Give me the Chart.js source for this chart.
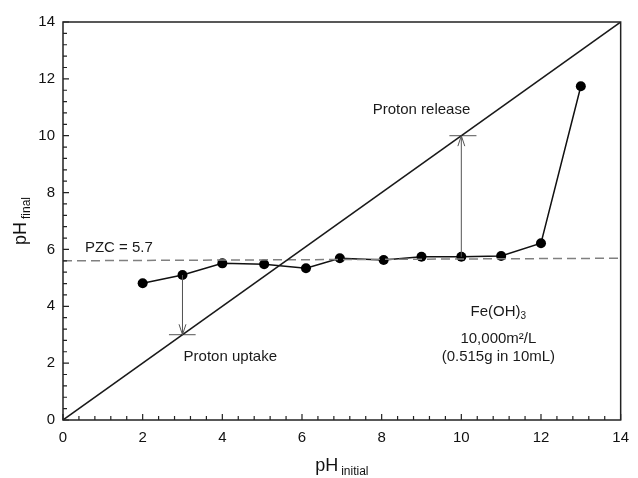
<!DOCTYPE html>
<html>
<head>
<meta charset="utf-8">
<script src="https://cdn.jsdelivr.net/npm/chart.js@4.4.1/dist/chart.umd.min.js"></script>
<style>
  html, body { margin: 0; padding: 0; background: #fff; }
  #wrap { width: 638px; height: 478px; }
</style>
</head>
<body>
<div id="wrap"><canvas id="c" width="638" height="478"></canvas></div>
<script>
// ---- data ----
const phInitial = [2.0, 3.0, 4.0, 5.05, 6.1, 6.95, 8.05, 9.0, 10.0, 11.0, 12.0, 13.0];
const phFinal   = [4.81, 5.10, 5.51, 5.48, 5.34, 5.69, 5.63, 5.74, 5.74, 5.77, 6.22, 11.74];
const axisTicks = [0, 2, 4, 6, 8, 10, 12, 14];
const diagonalX = [0, 14];
const diagonalY = [0, 14];
const pzcX = [0, 14];
const pzcY = [5.6, 5.69];
const uptakeArrowX = [3, 3];
const uptakeArrowY = [5.10, 3.0];
const uptakeBarX = [2.66, 3.33];
const uptakeBarY = [3.0, 3.0];
const releaseArrowX = [10, 10];
const releaseArrowY = [5.74, 10.0];
const releaseBarX = [9.7, 10.38];
const releaseBarY = [10.0, 10.0];
const labelTexts = ["Proton release", "Proton uptake", "PZC = 5.7"];
const labelX = [9.0, 4.2, 0.55];
const labelY = [10.9, 2.23, 6.07];
const noteTexts = ["10,000m\u00b2/L", "(0.515g in 10mL)"];
const noteX = [10.93, 10.93];
const noteY = [2.87, 2.23];
const formulaParts = ["Fe(OH)", "3"];
const formulaX = 10.93;
const formulaY = 3.81;
const xTitle = ["pH", "initial"];
const yTitle = ["pH", "final"];

const pts = (xs, ys) => xs.map((x, i) => ({ x: x, y: ys[i] }));
const FONT = '"Liberation Sans", Arial, sans-serif';

const decor = {
  id: 'decor',
  afterDraw(chart) {
    const ctx = chart.ctx;
    const xs = chart.scales.x, ys = chart.scales.y;
    const a = chart.chartArea;
    ctx.save();
    // frame
    ctx.strokeStyle = '#222';
    ctx.lineWidth = 1.5;
    ctx.strokeRect(a.left, a.top, a.right - a.left, a.bottom - a.top);
    // inward ticks (major every 2, minor every 0.4)
    ctx.lineWidth = 1.2;
    ctx.beginPath();
    for (let i = 0; i <= 35; i++) {
      const v = i * 0.4;
      const major = i % 5 === 0;
      const len = major ? 6 : 4;
      const px = xs.getPixelForValue(v);
      ctx.moveTo(px, a.bottom);
      ctx.lineTo(px, a.bottom - len);
      const py = ys.getPixelForValue(v);
      ctx.moveTo(a.left, py);
      ctx.lineTo(a.left + len, py);
    }
    ctx.stroke();

    // arrowheads (open V)
    const head = (xArr, yArr) => {
      const x0 = xs.getPixelForValue(xArr[0]), y0 = ys.getPixelForValue(yArr[0]);
      const x1 = xs.getPixelForValue(xArr[1]), y1 = ys.getPixelForValue(yArr[1]);
      const ang = Math.atan2(y1 - y0, x1 - x0);
      const L = 11, W = 0.32;
      ctx.beginPath();
      ctx.moveTo(x1 - L * Math.cos(ang - W), y1 - L * Math.sin(ang - W));
      ctx.lineTo(x1, y1);
      ctx.lineTo(x1 - L * Math.cos(ang + W), y1 - L * Math.sin(ang + W));
      ctx.strokeStyle = '#555';
      ctx.lineWidth = 1;
      ctx.stroke();
    };
    head(uptakeArrowX, uptakeArrowY);
    head(releaseArrowX, releaseArrowY);

    // annotation texts
    ctx.fillStyle = '#1a1a1a';
    ctx.textBaseline = 'middle';
    ctx.font = '15px ' + FONT;
    labelTexts.forEach((t, i) => {
      ctx.textAlign = i === 2 ? 'left' : 'center';
      ctx.fillText(t, xs.getPixelForValue(labelX[i]), ys.getPixelForValue(labelY[i]));
    });
    noteTexts.forEach((t, i) => {
      ctx.textAlign = 'center';
      ctx.fillText(t, xs.getPixelForValue(noteX[i]), ys.getPixelForValue(noteY[i]));
    });
    // Fe(OH)3 with subscript
    {
      ctx.font = '15px ' + FONT;
      const w1 = ctx.measureText(formulaParts[0]).width;
      ctx.font = '10px ' + FONT;
      const w2 = ctx.measureText(formulaParts[1]).width;
      const cx = xs.getPixelForValue(formulaX), cy = ys.getPixelForValue(formulaY);
      const start = cx - (w1 + w2) / 2;
      ctx.textAlign = 'left';
      ctx.font = '15px ' + FONT;
      ctx.fillText(formulaParts[0], start, cy);
      ctx.font = '10px ' + FONT;
      ctx.fillText(formulaParts[1], start + w1, cy + 5);
    }

    // axis titles
    ctx.fillStyle = '#111';
    ctx.textBaseline = 'alphabetic';
    ctx.textAlign = 'left';
    {
      ctx.font = '18px ' + FONT;
      const w1 = ctx.measureText(xTitle[0]).width;
      ctx.font = '12px ' + FONT;
      const w2 = ctx.measureText(xTitle[1]).width;
      const gap = 3;
      const cx = (a.left + a.right) / 2;
      const start = cx - (w1 + gap + w2) / 2;
      const base = a.bottom + 51;
      ctx.font = '18px ' + FONT;
      ctx.fillText(xTitle[0], start, base);
      ctx.font = '12px ' + FONT;
      ctx.fillText(xTitle[1], start + w1 + gap, base + 4);
    }
    {
      ctx.save();
      ctx.translate(26, (a.top + a.bottom) / 2);
      ctx.rotate(-Math.PI / 2);
      ctx.font = '18px ' + FONT;
      const w1 = ctx.measureText(yTitle[0]).width;
      ctx.font = '12px ' + FONT;
      const w2 = ctx.measureText(yTitle[1]).width;
      const gap = 3;
      const start = -(w1 + gap + w2) / 2;
      ctx.font = '18px ' + FONT;
      ctx.fillText(yTitle[0], start, 0);
      ctx.font = '12px ' + FONT;
      ctx.fillText(yTitle[1], start + w1 + gap, 4);
      ctx.restore();
    }
    ctx.restore();
  }
};

const thin = (xsArr, ysArr) => ({
  data: pts(xsArr, ysArr), showLine: true, pointRadius: 0,
  borderColor: '#555', borderWidth: 1, fill: false
});

new Chart(document.getElementById('c'), {
  type: 'scatter',
  data: {
    datasets: [
      { data: pts(diagonalX, diagonalY), showLine: true, pointRadius: 0,
        borderColor: '#1a1a1a', borderWidth: 1.5 },
      { data: pts(pzcX, pzcY), showLine: true, pointRadius: 0,
        borderColor: '#808080', borderWidth: 1.5, borderDash: [9, 5] },
      thin(uptakeArrowX, uptakeArrowY),
      thin(uptakeBarX, uptakeBarY),
      thin(releaseArrowX, releaseArrowY),
      thin(releaseBarX, releaseBarY),
      { data: pts(phInitial, phFinal), showLine: true,
        borderColor: '#111', borderWidth: 1.5,
        pointRadius: 5, pointBackgroundColor: '#000', pointBorderColor: '#000', pointBorderWidth: 0 }
    ]
  },
  options: {
    responsive: false,
    animation: false,
    events: [],
    layout: { padding: { top: 22, right: 9, left: 0, bottom: 0 } },
    plugins: { legend: { display: false }, tooltip: { enabled: false } },
    scales: {
      x: {
        type: 'linear', min: 0, max: 14,
        afterBuildTicks: (s) => { s.ticks = axisTicks.map(v => ({ value: v })); },
        grid: { display: false, drawTicks: false },
        border: { display: false },
        ticks: { font: { family: FONT, size: 15 }, color: '#111', padding: 9, maxRotation: 0 },
        afterFit: (s) => { s.height = 58; }
      },
      y: {
        type: 'linear', min: 0, max: 14,
        afterBuildTicks: (s) => { s.ticks = axisTicks.map(v => ({ value: v })); },
        grid: { display: false, drawTicks: false },
        border: { display: false },
        ticks: { font: { family: FONT, size: 15 }, color: '#111', padding: 8 },
        afterFit: (s) => { s.width = 63; }
      }
    }
  },
  plugins: [decor]
});
</script>
</body>
</html>
